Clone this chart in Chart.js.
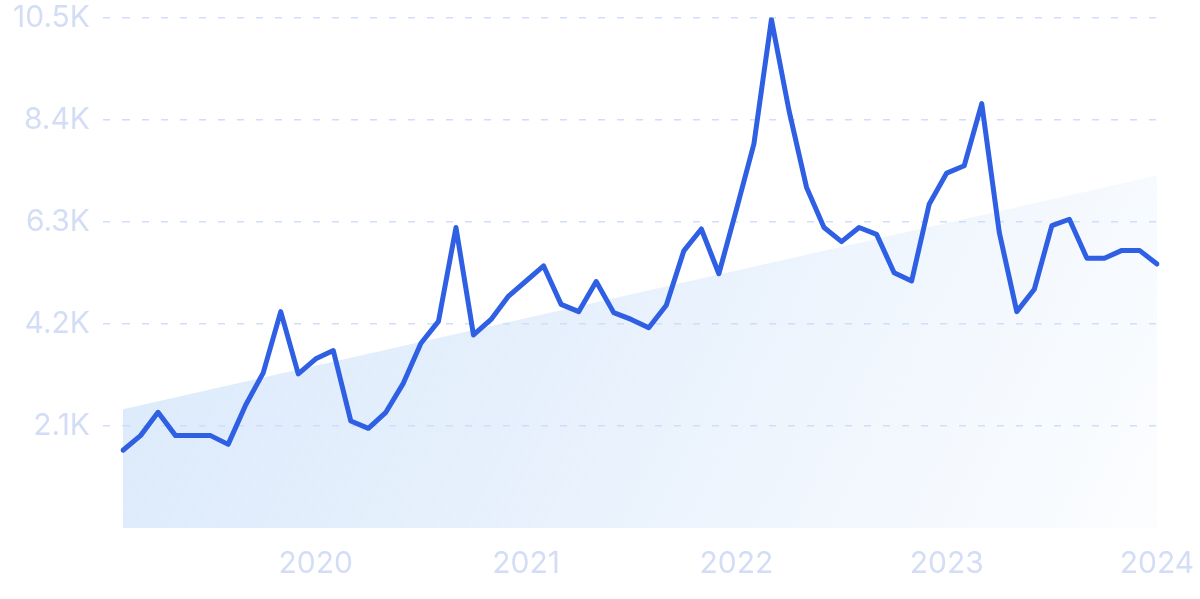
<!DOCTYPE html>
<html>
<head>
<meta charset="utf-8">
<script src="https://cdn.jsdelivr.net/npm/chart.js@4"></script>
<style>
  html, body { margin: 0; padding: 0; background: #fff; }
  #wrap { width: 1200px; height: 599px; }
</style>
</head>
<body>
<div id="wrap"><canvas id="trendChart"></canvas></div>
<script>
// months, Feb 2019 .. Jan 2024
const months = [
    '2019-02', '2019-03', '2019-04', '2019-05', '2019-06', '2019-07', '2019-08', '2019-09', '2019-10', '2019-11', '2019-12',
    '2020-01', '2020-02', '2020-03', '2020-04', '2020-05', '2020-06', '2020-07', '2020-08', '2020-09', '2020-10', '2020-11', '2020-12',
    '2021-01', '2021-02', '2021-03', '2021-04', '2021-05', '2021-06', '2021-07', '2021-08', '2021-09', '2021-10', '2021-11', '2021-12',
    '2022-01', '2022-02', '2022-03', '2022-04', '2022-05', '2022-06', '2022-07', '2022-08', '2022-09', '2022-10', '2022-11', '2022-12',
    '2023-01', '2023-02', '2023-03', '2023-04', '2023-05', '2023-06', '2023-07', '2023-08', '2023-09', '2023-10', '2023-11', '2023-12',
    '2024-01'
];

const searches = [
    1600, 1900, 2380, 1900, 1900, 1900, 1720, 2530, 3190, 4450, 3170,
    3480, 3650, 2200, 2050, 2380, 2980, 3800, 4250, 6180, 3970, 4290, 4770,
    5080, 5390, 4600, 4450, 5070, 4430, 4290, 4120, 4580, 5700, 6150, 5230,
    6550, 7900, 10460, 8590, 7010, 6180, 5890, 6180, 6040, 5250, 5080, 6660,
    7300, 7450, 8730, 6080, 4450, 4910, 6220, 6350, 5550, 5550, 5710, 5710,
    5430
];

// straight trend, first and last month
const trendEnds = [2440, 7250];

const yTicks = [2100, 4200, 6300, 8400, 10500];
const yTickLabels = ['2.1K', '4.2K', '6.3K', '8.4K', '10.5K'];

const axisColor = '#d3ddf5';
const gridColor = '#d0defb';

const trendPoints = [
    { x: months[0], y: trendEnds[0] },
    { x: months[months.length - 1], y: trendEnds[1] }
];

function trendFill(context) {
    const area = context.chart.chartArea;
    if (!area) return 'rgba(200, 222, 249, 0.5)';
    const g = context.chart.ctx.createLinearGradient(area.left, area.top, area.right, area.bottom);
    g.addColorStop(0, 'rgba(196, 220, 249, 0.66)');
    g.addColorStop(0.55, 'rgba(200, 222, 249, 0.4)');
    g.addColorStop(1, 'rgba(210, 228, 250, 0.08)');
    return g;
}

// hide the line and tick at zero
const hideZero = (c) => c.tick && c.tick.value === 0 ? 'rgba(0,0,0,0)' : gridColor;

document.addEventListener('DOMContentLoaded', () => {
    const ctx = document.getElementById('trendChart').getContext('2d');

    new Chart(ctx, {
        type: 'line',
        data: {
            labels: months,
            datasets: [{
                label: 'Searches',
                data: searches,
                borderColor: '#2f60e4',
                borderWidth: 5,
                borderJoinStyle: 'round',
                borderCapStyle: 'round',
                pointRadius: 0,
                tension: 0,
                fill: false,
                order: 1
            }, {
                label: 'Trend',
                data: trendPoints,
                borderWidth: 0,
                borderColor: 'rgba(0,0,0,0)',
                backgroundColor: trendFill,
                pointRadius: 0,
                tension: 0,
                fill: 'origin',
                order: 2
            }]
        },
        options: {
            responsive: true,
            maintainAspectRatio: false,
            animation: false,
            layout: { padding: { left: 0, right: 43, top: 17.5, bottom: -1 } },
            plugins: {
                legend: { display: false },
                tooltip: { enabled: false }
            },
            scales: {
                x: {
                    offset: false,
                    afterFit: (axis) => { axis.paddingLeft = 0; axis.paddingRight = 0; },
                    grid: { display: false, drawTicks: false },
                    border: { display: false },
                    ticks: {
                        autoSkip: false,
                        maxRotation: 0,
                        padding: 18,
                        color: axisColor,
                        font: { family: 'Inter', size: 30 },
                        callback: function (value) {
                            const m = this.getLabelForValue(value);
                            return m.endsWith('-01') ? m.slice(0, 4) : '';
                        }
                    }
                },
                y: {
                    min: 0,
                    max: 10500,
                    afterFit: (axis) => {
                        axis.width = 123;
                        axis.paddingTop = 0;
                        axis.paddingBottom = 0;
                    },
                    afterBuildTicks: (axis) => {
                        axis.ticks = [0].concat(yTicks).map(v => ({ value: v }));
                    },
                    border: { display: false, dash: [7, 12] },
                    grid: {
                        color: hideZero,
                        tickColor: hideZero,
                        lineWidth: 1.5,
                        tickWidth: 1.5,
                        tickBorderDash: [7, 12],
                        drawTicks: true,
                        tickLength: 20
                    },
                    ticks: {
                        padding: 13,
                        color: axisColor,
                        font: { family: 'Inter', size: 30 },
                        callback: (value) => {
                            const i = yTicks.indexOf(value);
                            return i >= 0 ? yTickLabels[i] : '';
                        }
                    }
                }
            }
        }
    });
});
</script>
</body>
</html>
